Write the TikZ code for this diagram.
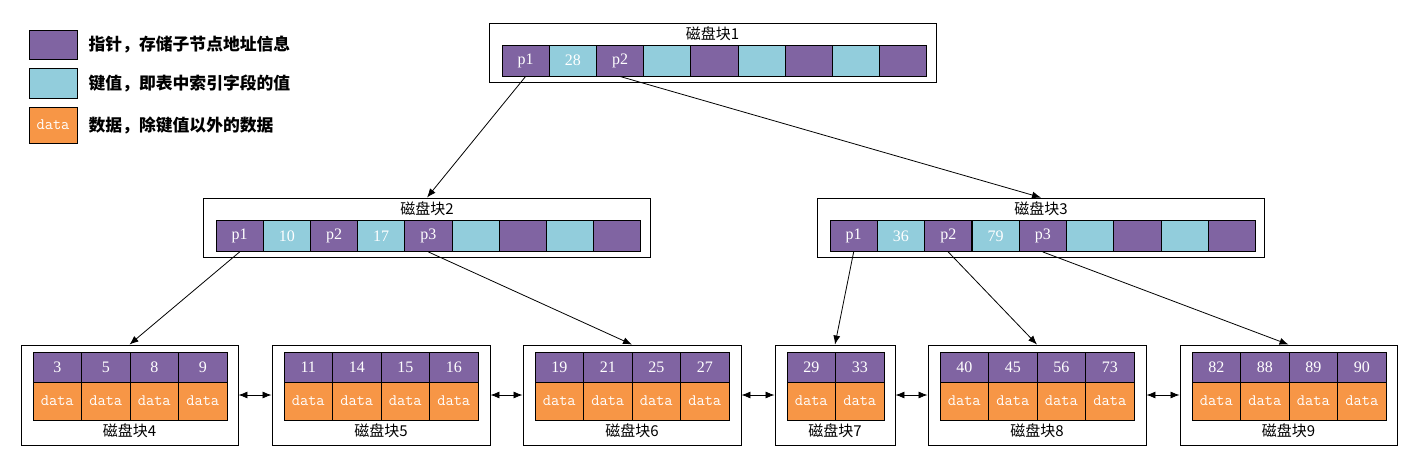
\documentclass[tikz,border=0pt]{standalone}
\usepackage{fontspec}
\newfontfamily\cjk{Noto Sans CJK SC}
\newfontfamily\cellfont{Liberation Serif}
\usetikzlibrary{positioning,arrows.meta}

\definecolor{ptrpurple}{HTML}{8064A2}
\definecolor{keyblue}{HTML}{92CDDC}
\definecolor{dataorange}{HTML}{F79646}

\tikzstyle{disk} = [
        draw, fill=white, rectangle, line width=0.9pt, minimum height=59pt, minimum width=447pt
    ]
\tikzstyle{ptr} = [
        draw, fill=ptrpurple, rectangle, line width=0.9pt, text=white,
        minimum width=47.2pt, minimum height=31pt, inner sep=0pt,
        font=\fontsize{16}{16}\selectfont\cellfont
    ]
\tikzstyle{key} = [ptr, fill=keyblue]
\tikzstyle{leafkey} = [ptr, minimum width=48.5pt, minimum height=30pt]
\tikzstyle{data} = [ptr, fill=dataorange, minimum width=48.5pt, minimum height=38pt,
        font=\fontsize{16}{16}\selectfont\ttfamily]
\tikzstyle{title} = [font=\cjk\fontsize{15}{15}\selectfont, inner sep=0pt]
\tikzstyle{legend} = [font=\cjk\bfseries\fontsize{16.8}{16.8}\selectfont, inner sep=0pt, anchor=west]
\tikzstyle{link} = [-{Latex[length=9pt, width=7pt]}, line width=0.8pt]

\begin{document}
\begin{tikzpicture}[x=1pt, y=-1pt]
        \useasboundingbox (0,0) rectangle (1417,472);
        % legend
        \node [ptr, minimum width=48pt, minimum height=29pt] (legptr) at (53,44.5) {};
        \node [key, minimum width=48pt, minimum height=30pt] (legkey) at (53,83.3) {};
        \node [data, minimum width=48pt, minimum height=36pt] (legdata) at (53,125) {data};
        \node [legend, right=11pt of legptr] (txtptr) {指针，存储子节点地址信息};
        \node [legend, right=11pt of legkey] (txtkey) {键值，即表中索引字段的值};
        \node [legend, right=11pt of legdata] (txtdata) {数据，除键值以外的数据};
        % root and inner blocks
        \node [disk] (disk1) at (712.5,52.5) {};
        \node [disk] (disk2) at (427,227.5) {};
        \node [disk] (disk3) at (1041,227.5) {};
        \node [title] (title1) at (712.5,34) {磁盘块1};
        \node [title] (title2) at (427,209) {磁盘块2};
        \node [title] (title3) at (1041,209) {磁盘块3};
        \foreach \i/\txt/\sty in {1/p1/ptr, 2/28/key, 3/p2/ptr, 4//key, 5//ptr, 6//key, 7//ptr, 8//key, 9//ptr}
            \node [\sty] (b1c\i) at ({502+47.2*(\i-0.5)},60.5) {\txt};
        \foreach \i/\txt/\sty in {1/p1/ptr, 2/10/key, 3/p2/ptr, 4/17/key, 5/p3/ptr, 6//key, 7//ptr, 8//key, 9//ptr}
            \node [\sty] (b2c\i) at ({216+47.2*(\i-0.5)},236) {\txt};
        \foreach \i/\txt/\sty in {1/p1/ptr, 2/36/key, 3/p2/ptr, 4/79/key, 5/p3/ptr, 6//key, 7//ptr, 8//key, 9//ptr}
            \node [\sty] (b3c\i) at ({830+47.3*(\i-0.5)},236) {\txt};
        % leaf blocks
        \foreach \n/\x/\w/\keys in {4/21/217/{3,5,8,9}, 5/272/218/{11,14,15,16}, 6/523/218/{19,21,25,27},
                7/775/120/{29,33}, 8/928/218/{40,45,56,73}, 9/1180/217/{82,88,89,90}} {
            \node [disk, minimum width=\w pt, minimum height=100pt] (disk\n) at ({\x+\w/2},395) {};
            \node [title] (title\n) at ({\x+\w/2},431) {磁盘块\n};
            \foreach \k [count=\j] in \keys {
                \node [leafkey] (k\n\j) at ({\x+12+48.5*(\j-0.5)},367) {\k};
                \node [data] (d\n\j) at ({\x+12+48.5*(\j-0.5)},401) {data};
            }
        }
        \draw [link] (b1c1.south) -- (disk2.north);
        \draw [link] (b1c3.south) -- (disk3.north);
        \draw [link] (b2c1.south) -- (disk4.north);
        \draw [link] (b2c5.south) -- (disk6.north);
        \draw [link] (b3c1.south) -- (disk7.north);
        \draw [link] (b3c3.south) -- (disk8.north);
        \draw [link] (b3c5.south) -- (disk9.north);
        \foreach \a/\b in {4/5, 5/6, 6/7, 7/8, 8/9}
            \draw [link, {Latex[length=9pt, width=7pt]}-{Latex[length=9pt, width=7pt]}] (disk\a.east) -- (disk\b.west);
    \end{tikzpicture}
\end{document}
